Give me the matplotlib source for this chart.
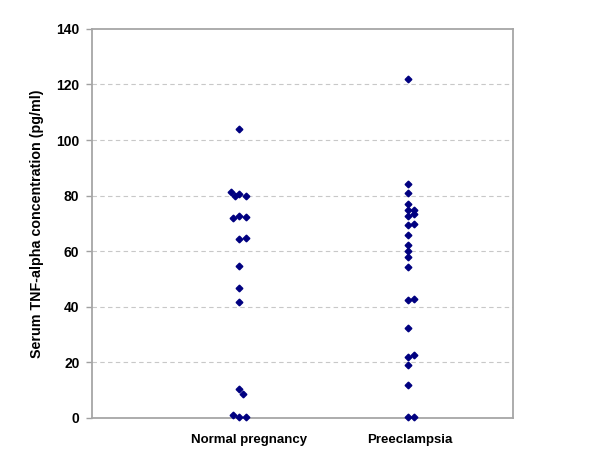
import matplotlib
matplotlib.use('Agg')
import matplotlib.pyplot as plt
import numpy as np

plt.rcParams['font.family'] = ['Liberation Sans', 'DejaVu Sans']

# 数据
categories = ['Normal pregnancy', 'Preeclampsia']
normal_vals = [104, 81.2, 79.7, 80.6, 80.0, 72.0, 72.6, 72.3, 64.5, 64.8,
               54.7, 46.8, 41.6, 10.3, 8.5, 1.0, 0.3, 0.3]
normal_cols = [0, -1.3, -0.65, 0, 1, -1, 0, 1, 0, 1, 0, 0, 0, 0, 0.5, -1, 0, 1]
pre_vals = [121.9, 84.0, 81.0, 76.8, 74.7, 74.7, 72.6, 73.2, 69.5, 69.7,
            65.6, 62.1, 60.1, 57.8, 54.3, 42.5, 42.7, 32.1, 22.6, 21.8,
            19.1, 11.8, 0.1, 0.1]
pre_cols = [0, 0, 0, 0, 0, 1, 0, 1, 0, 1, 0, 0, 0, 0, 0, 0, 1, 0, 1, 0, 0, 0, 0, 1]
yticks = [0, 20, 40, 60, 80, 100, 120, 140]

# 位置
centers = [1.05, 2.25]
label_pos = [1.117, 2.266]
step = 0.047

fig = plt.figure(figsize=(6, 4.73), dpi=100)
ax = fig.add_axes([0.1533, 0.1173, 0.7017, 0.8214])

for c, vals, cols in [(centers[0], normal_vals, normal_cols),
                      (centers[1], pre_vals, pre_cols)]:
    x = c + np.array(cols) * step
    ax.plot(x, vals, 'D', color='#000080', ms=3.4, mec='#000080', zorder=3, clip_on=False)

ax.set_xlim(0, 3)
ax.set_ylim(0, 140)
ax.set_yticks(yticks)
ax.set_yticklabels([str(t) for t in yticks], fontsize=10, fontweight='bold')
ax.set_xticks(label_pos)
ax.set_xticklabels(categories, fontsize=9.5, fontweight='bold')
ax.tick_params(axis='x', length=0, pad=12)
ax.tick_params(axis='y', length=4, width=1, color='#a0a0a0', pad=5)

for y in yticks[1:-1]:
    ax.axhline(y, color='#c8c8c8', ls=(0, (4, 3)), lw=0.8, zorder=1)

for s in ax.spines.values():
    s.set_color('#a6a6a6')
    s.set_linewidth(1.3)

ax.set_ylabel('Serum TNF-alpha concentration (pg/ml)', fontsize=10.3, fontweight='bold')
ax.yaxis.set_label_coords(-0.113, 0.5)

plt.savefig('out.png', dpi=100)
